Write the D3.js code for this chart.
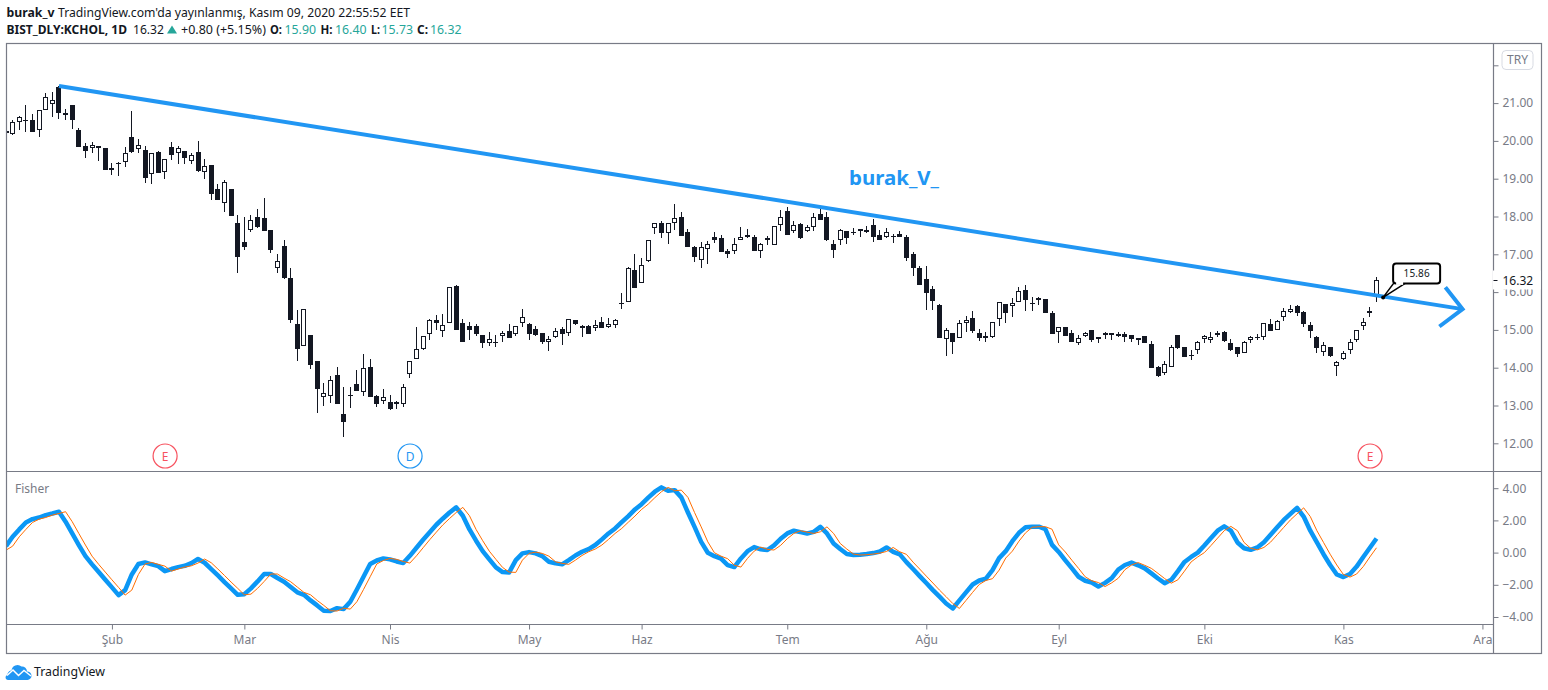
<!DOCTYPE html>
<html><head><meta charset="utf-8">
<script src="https://cdn.jsdelivr.net/npm/d3@7/dist/d3.min.js"></script>
<style>html,body{margin:0;padding:0;background:#fff}svg{display:block}text{font-family:"Noto Sans",sans-serif}</style>
</head><body><div id="c"></div>
<script>
const opens=[20.25,20.19,20.49,20.55,20.54,20.28,20.81,20.97,21.42,20.68,
20.94,20.28,19.86,19.80,19.86,19.80,19.27,19.38,19.43,20.09,
19.78,19.76,19.12,19.71,19.17,19.84,19.69,19.73,19.48,19.71,
19.19,19.36,18.73,18.35,18.73,17.83,17.33,17.63,17.98,17.95,
17.64,16.63,17.22,16.36,15.16,14.58,14.87,14.18,13.23,13.26,
13.81,12.77,13.25,13.57,13.37,14.02,13.25,13.13,13.08,13.09,
13.05,13.84,14.24,14.50,14.90,15.25,14.98,15.19,16.16,15.17,
15.10,15.10,14.87,14.66,14.66,14.85,14.96,14.90,15.19,15.16,
15.02,14.91,14.69,14.81,15.02,14.93,15.26,15.10,15.10,15.06,
15.21,15.08,15.14,15.68,15.75,16.58,16.23,16.83,17.69,17.84,
17.57,17.84,18.00,17.58,17.18,16.84,17.13,17.45,17.42,17.08,
17.10,17.37,17.50,17.47,17.08,17.42,17.24,17.77,18.14,17.61,
17.79,17.61,17.71,18.06,18.00,17.26,17.39,17.61,17.58,17.66,
17.63,17.77,17.50,17.47,17.48,17.53,17.45,17.00,16.65,16.35,
16.08,15.65,14.75,14.93,14.78,15.17,15.31,14.91,14.83,14.82,
15.30,15.68,15.64,15.75,16.05,15.69,15.84,15.81,15.44,14.95,
15.07,14.93,14.66,14.85,14.99,14.75,14.92,14.91,14.89,14.88,
14.86,14.78,14.83,14.64,14.02,13.85,14.03,14.86,14.54,14.31,
14.46,14.77,14.72,14.86,14.94,14.66,14.54,14.40,14.72,14.80,
14.82,15.15,15.01,15.33,15.48,15.62,15.47,15.12,14.80,14.41,
14.54,14.04,14.22,14.46,14.72,15.09,15.44,15.90];
const highs=[20.27,20.55,20.66,20.94,20.70,20.81,21.28,21.30,21.45,20.84,
20.94,20.33,19.94,19.98,19.86,19.80,19.41,19.43,19.83,20.79,
20.04,19.86,19.69,19.72,19.53,19.96,19.87,19.73,19.69,20.00,
19.52,19.36,18.86,18.96,18.73,18.04,17.99,18.04,18.21,18.48,
17.64,17.02,17.39,16.63,15.53,15.54,14.87,14.18,13.59,13.78,
14.02,13.49,13.49,13.94,14.36,14.23,13.28,13.44,13.28,13.12,
13.57,14.19,15.08,14.85,15.28,15.39,15.42,16.13,16.19,15.29,
15.21,15.16,14.87,14.94,14.87,14.96,15.16,15.10,15.55,15.18,
15.10,14.91,14.84,15.04,15.08,15.29,15.26,15.13,15.13,15.26,
15.34,15.32,15.28,15.97,16.67,17.01,16.89,17.39,17.84,17.88,
17.84,18.33,18.11,17.66,17.22,17.32,17.35,17.59,17.50,17.13,
17.43,17.72,17.66,17.50,17.29,17.48,17.74,18.17,18.24,17.87,
17.82,17.77,18.08,18.19,18.11,17.37,17.66,17.61,17.69,17.66,
17.74,17.93,17.64,17.69,17.53,17.61,17.50,17.05,16.68,16.69,
16.16,15.68,15.04,14.93,15.26,15.36,15.49,15.02,14.94,15.20,
15.75,15.68,15.84,16.13,16.18,15.87,15.87,15.83,15.49,15.07,
15.07,14.99,14.86,14.94,14.99,14.82,14.94,14.91,14.94,14.94,
14.86,14.78,14.83,14.70,14.04,14.17,14.59,14.86,14.54,14.46,
14.71,14.87,14.94,14.96,14.96,14.75,14.56,14.70,14.83,14.88,
15.17,15.28,15.26,15.58,15.65,15.65,15.49,15.20,14.83,14.67,
14.56,14.17,14.43,14.75,15.01,15.31,15.60,16.40];
const lows=[20.20,20.16,20.29,20.23,20.24,20.09,20.81,20.64,20.59,20.54,
20.31,19.85,19.56,19.69,19.48,19.24,19.10,19.08,19.32,19.69,
19.67,18.88,18.87,19.16,19.00,19.49,19.40,19.40,19.40,19.19,
19.00,18.44,18.44,18.13,18.01,16.51,17.11,17.60,17.70,17.62,
17.04,16.51,16.35,15.19,14.19,14.58,13.97,12.81,12.99,13.07,
13.05,12.17,12.94,13.39,13.25,13.23,12.97,13.04,12.89,12.92,
12.97,13.74,14.24,14.47,14.74,15.00,14.81,15.19,15.00,14.68,
14.74,14.84,14.52,14.57,14.55,14.68,14.79,14.84,15.08,14.73,
14.84,14.63,14.44,14.79,14.60,14.84,15.13,14.81,14.89,14.97,
15.05,15.05,15.05,15.55,15.75,16.12,16.23,16.80,17.54,17.44,
17.28,17.64,17.49,17.20,16.79,16.65,16.75,17.31,17.05,16.91,
17.02,17.37,17.44,17.09,16.91,17.25,17.24,17.62,17.50,17.57,
17.41,17.58,17.61,17.90,17.36,16.91,17.25,17.28,17.52,17.47,
17.56,17.32,17.39,17.42,17.29,17.45,16.81,16.43,16.18,15.52,
15.52,14.79,14.32,14.37,14.78,14.95,14.93,14.71,14.69,14.79,
15.11,15.18,15.34,15.75,15.51,15.51,15.67,15.44,14.90,14.66,
14.85,14.69,14.61,14.82,14.69,14.66,14.77,14.74,14.82,14.69,
14.69,14.61,14.66,14.00,13.76,13.82,14.03,14.50,14.29,14.21,
14.37,14.66,14.66,14.82,14.69,14.45,14.29,14.38,14.66,14.74,
14.74,14.97,15.00,15.23,15.44,15.38,15.07,14.79,14.38,14.32,
14.29,13.79,14.21,14.35,14.67,15.01,15.35,15.73];
const closes=[20.22,20.49,20.62,20.54,20.24,20.81,21.17,21.07,20.75,20.73,
20.54,19.85,19.72,19.88,19.82,19.24,19.24,19.41,19.67,19.71,
19.88,19.03,19.67,19.16,19.51,19.64,19.80,19.56,19.64,19.20,
19.33,18.60,18.44,18.90,18.01,16.94,17.20,17.92,17.73,17.62,
17.11,16.81,16.37,15.27,14.50,15.54,14.08,13.44,13.32,13.67,
13.05,12.57,13.28,13.39,13.98,13.23,13.04,13.22,12.92,13.05,
13.48,14.19,14.49,14.83,15.25,15.19,15.12,16.13,15.00,14.68,
15.00,14.89,14.65,14.75,14.68,14.91,14.79,15.09,15.33,14.89,
14.87,14.68,14.75,14.96,14.89,15.28,15.16,15.06,14.89,15.13,
15.05,15.15,15.26,15.70,16.65,16.12,16.73,17.39,17.82,17.57,
17.84,17.95,17.49,17.20,16.94,17.18,17.26,17.39,17.07,17.02,
17.26,17.45,17.46,17.09,17.26,17.39,17.74,18.00,17.52,17.77,
17.44,17.71,18.00,17.90,17.39,17.12,17.63,17.44,17.60,17.62,
17.60,17.47,17.39,17.58,17.45,17.47,16.89,16.65,16.18,15.97,
15.77,14.79,14.99,14.69,15.17,15.25,14.98,14.79,14.79,15.20,
15.73,15.46,15.70,16.02,15.80,15.71,15.80,15.46,14.90,15.07,
14.85,14.69,14.78,14.91,14.74,14.82,14.87,14.87,14.85,14.82,
14.77,14.74,14.66,14.00,13.79,14.11,14.54,14.53,14.29,14.33,
14.67,14.85,14.80,14.91,14.71,14.48,14.37,14.69,14.82,14.82,
15.17,14.98,15.24,15.49,15.54,15.46,15.15,14.96,14.51,14.61,
14.30,14.16,14.38,14.69,14.99,15.20,15.51,16.32];
const fisher=[0.40,0.98,1.44,1.87,2.08,2.18,2.33,2.43,2.54,1.92,
1.19,0.47,-0.22,-0.73,-1.21,-1.69,-2.16,-2.64,-2.33,-1.36,
-0.71,-0.61,-0.73,-0.84,-1.15,-1.02,-0.90,-0.82,-0.65,-0.40,
-0.63,-1.02,-1.42,-1.83,-2.22,-2.62,-2.58,-2.22,-1.79,-1.33,
-1.33,-1.58,-1.81,-2.14,-2.47,-2.62,-2.97,-3.28,-3.61,-3.63,
-3.45,-3.51,-3.05,-2.29,-1.50,-0.71,-0.49,-0.36,-0.42,-0.55,
-0.65,-0.20,0.30,0.80,1.27,1.73,2.12,2.49,2.81,2.29,
1.44,0.74,0.09,-0.42,-0.92,-1.21,-1.23,-0.47,-0.05,0.03,
-0.05,-0.22,-0.57,-0.67,-0.73,-0.47,-0.18,0.05,0.22,0.47,
0.82,1.19,1.50,1.89,2.27,2.68,3.01,3.41,3.78,4.05,
3.84,3.88,3.43,2.49,1.60,0.67,-0.01,-0.22,-0.38,-0.78,
-0.90,-0.36,0.09,0.34,0.20,0.16,0.45,0.86,1.19,1.36,
1.27,1.19,1.29,1.60,1.19,0.57,0.22,-0.09,-0.15,-0.13,
-0.09,-0.03,0.07,0.32,0.05,-0.11,-0.59,-1.02,-1.46,-1.89,
-2.33,-2.74,-3.16,-3.47,-2.97,-2.47,-1.98,-1.73,-1.62,-1.09,
-0.34,0.09,0.71,1.23,1.57,1.61,1.61,1.45,0.48,0.04,
-0.48,-0.98,-1.50,-1.75,-1.86,-2.11,-1.88,-1.59,-1.06,-0.77,
-0.62,-0.79,-0.98,-1.29,-1.61,-1.90,-1.69,-1.15,-0.58,-0.27,
0.00,0.44,0.90,1.36,1.63,1.36,0.63,0.27,0.17,0.32,
0.65,1.11,1.57,2.03,2.41,2.78,2.24,1.36,0.63,-0.10,
-0.77,-1.36,-1.52,-1.33,-0.87,-0.27,0.30,0.88];
const trigger=[0.15,0.40,0.98,1.44,1.87,2.08,2.18,2.33,2.43,2.54,
1.92,1.19,0.47,-0.22,-0.73,-1.21,-1.69,-2.16,-2.64,-2.33,
-1.36,-0.71,-0.61,-0.73,-0.84,-1.15,-1.02,-0.90,-0.82,-0.65,
-0.40,-0.63,-1.02,-1.42,-1.83,-2.22,-2.62,-2.58,-2.22,-1.79,
-1.33,-1.33,-1.58,-1.81,-2.14,-2.47,-2.62,-2.97,-3.28,-3.61,
-3.63,-3.45,-3.51,-3.05,-2.29,-1.50,-0.71,-0.49,-0.36,-0.42,
-0.55,-0.65,-0.20,0.30,0.80,1.27,1.73,2.12,2.49,2.81,
2.29,1.44,0.74,0.09,-0.42,-0.92,-1.21,-1.23,-0.47,-0.05,
0.03,-0.05,-0.22,-0.57,-0.67,-0.73,-0.47,-0.18,0.05,0.22,
0.47,0.82,1.19,1.50,1.89,2.27,2.68,3.01,3.41,3.78,
4.05,3.84,3.88,3.43,2.49,1.60,0.67,-0.01,-0.22,-0.38,
-0.78,-0.90,-0.36,0.09,0.34,0.20,0.16,0.45,0.86,1.19,
1.36,1.27,1.19,1.29,1.60,1.19,0.57,0.22,-0.09,-0.15,
-0.13,-0.09,-0.03,0.07,0.32,0.05,-0.11,-0.59,-1.02,-1.46,
-1.89,-2.33,-2.74,-3.16,-3.47,-2.97,-2.47,-1.98,-1.73,-1.62,
-1.09,-0.34,0.09,0.71,1.23,1.57,1.61,1.61,1.45,0.48,
0.04,-0.48,-0.98,-1.50,-1.75,-1.86,-2.11,-1.88,-1.59,-1.06,
-0.77,-0.62,-0.79,-0.98,-1.29,-1.61,-1.90,-1.69,-1.15,-0.58,
-0.27,0.00,0.44,0.90,1.36,1.63,1.36,0.63,0.27,0.17,
0.32,0.65,1.11,1.57,2.03,2.41,2.78,2.24,1.36,0.63,
-0.10,-0.77,-1.36,-1.52,-1.33,-0.87,-0.27,0.30];
const monthBars=[16,36,58,79,96,118,139,159,181,202,223];
const monthLabels=["Şub","Mar","Nis","May","Haz","Tem","Ağu","Eyl","Eki","Kas","Ara"];
const priceTicks=[12,13,14,15,16,17,18,19,20,21,22];
const fisherTicks=[-4,-2,0,2,4];
const trendBars=[8,220], trendPrices=[21.45,15.55];
const wingBars=[217.4,220,216.5], wingPrices=[16.13,15.55,15.09];
const eventBars=[24,61,206], eventLetters=["E","D","E"];
const lastClose=16.32, calloutBar=208, calloutPrice=15.86;

const W=1548,H=690,L=6.5,R=1541.5,T=43.5,B=653.5,AX=1493.5,SPLIT=471.5,TAX=624.5;
const INK="#131722",GREY="#787b86",BLUE="#2196f3",TEAL="#26a69a",RED="#f7525f";
const svg=d3.select("#c").append("svg").attr("width",W).attr("height",H);
const xS=d3.scaleLinear().domain([0,207]).range([6,1376.5]);
const yS=d3.scaleLinear().domain([12,22]).range([443.3,65.3]);
const yF=d3.scaleLinear().domain([-4,4]).range([617,488.2]);
const snap=i=>Math.floor(xS(i))+0.5;

svg.append("defs").append("clipPath").attr("id","plot").append("rect")
  .attr("x",L+.5).attr("y",T+.5).attr("width",AX-L-1).attr("height",TAX-T-1);

// header
const head=svg.append("g").attr("font-size",13).attr("fill",INK);
function label(str,xs,ys,len,o={}){const e=head.append("text").attr("x",xs).attr("y",ys).text(str)
  .attr("textLength",len).attr("lengthAdjust","spacingAndGlyphs");
  if(o.b)e.attr("font-weight",700); if(o.c)e.attr("fill",o.c); if(o.s)e.attr("font-size",o.s); return e;}
label("burak_v",6.5,17,48,{b:1});
label("TradingView.com'da yayınlanmış, Kasım 09, 2020 22:55:52 EET",58,17,352);
label("BIST_DLY:KCHOL, 1D",6.5,34,120.5,{b:1,s:12});
label("16.32",133,34,31);
head.append("path").attr("d","M167 33.5L172 25.5L177 33.5Z").attr("fill",TEAL);
label("+0.80 (+5.15%)",181,34,85);
[["O:",270,12,"15.90",284.5],["H:",320.5,12,"16.40",335],["L:",371,9,"15.73",381.5],["C:",417,11,"16.32",430]].forEach(d=>{
  label(d[0],d[1],34,d[2],{b:1}); label(d[3],d[4],34,31.5,{c:TEAL});
});

// candles
const candles=svg.append("g").attr("clip-path","url(#plot)").attr("shape-rendering","crispEdges");
const idx=d3.range(opens.length);
candles.selectAll(".w").data(idx).join("rect").attr("class","w")
  .attr("x",i=>snap(i)-.5).attr("width",1)
  .attr("y",i=>Math.round(yS(highs[i]))).attr("height",i=>Math.max(1,Math.round(yS(lows[i]))-Math.round(yS(highs[i]))))
  .attr("fill",INK);
const bodyTop=i=>Math.round(yS(Math.max(opens[i],closes[i])));
const bodyBot=i=>Math.round(yS(Math.min(opens[i],closes[i])));
candles.selectAll(".b").data(idx).join("rect").attr("class","b")
  .attr("x",i=>snap(i)-2.5).attr("width",5).attr("y",bodyTop).attr("height",i=>Math.max(1,bodyBot(i)-bodyTop(i))).attr("fill",INK);
candles.selectAll(".u").data(idx.filter(i=>closes[i]>=opens[i]&&bodyBot(i)-bodyTop(i)>2)).join("rect").attr("class","u")
  .attr("x",i=>snap(i)-1.5).attr("width",3).attr("y",i=>bodyTop(i)+1).attr("height",i=>bodyBot(i)-bodyTop(i)-2).attr("fill","#fff");

// trend line, arrow head, label
const ln=d3.line().x(d=>xS(d[0])).y(d=>yS(d[1]));
const over=svg.append("g").attr("clip-path","url(#plot)");
over.append("path").attr("d",ln(d3.zip(trendBars,trendPrices))).attr("fill","none").attr("stroke",BLUE).attr("stroke-width",4);
over.append("path").attr("d",ln(d3.zip(wingBars,wingPrices))).attr("fill","none").attr("stroke",BLUE).attr("stroke-width",4);
over.append("text").attr("x",849).attr("y",185).text("burak_V_").attr("font-size",20).attr("font-weight",700)
  .attr("fill",BLUE).attr("textLength",90).attr("lengthAdjust","spacingAndGlyphs");

// callout
const px=xS(calloutBar),py=yS(calloutPrice);
const cg=over.append("g");
cg.append("path").attr("d",`M${px} ${py}L${px+12} ${py-16}L${px+22} ${py-14}Z`).attr("fill","#fff").attr("stroke","#000").attr("stroke-width",1.5);
cg.append("rect").attr("x",px+10).attr("y",py-34).attr("width",47).attr("height",20).attr("rx",3).attr("fill","#fff").attr("stroke","#000").attr("stroke-width",2);
cg.append("path").attr("d",`M${px+13} ${py-14}H${px+20}`).attr("stroke","#fff").attr("stroke-width",3);
cg.append("circle").attr("cx",px).attr("cy",py).attr("r",2).attr("fill","#000");
cg.append("text").attr("x",px+20.5).attr("y",py-20.5).attr("font-size",10).attr("fill",INK)
  .attr("textLength",26).attr("lengthAdjust","spacing").text(calloutPrice.toFixed(2));

// events
const ev=svg.append("g");
eventBars.forEach((b,i)=>{
  const col=eventLetters[i]==="D"?BLUE:RED;
  ev.append("circle").attr("cx",xS(b)+.2).attr("cy",456).attr("r",12).attr("fill","#fff").attr("stroke",col).attr("stroke-width",1.2);
  ev.append("text").attr("x",xS(b)+.2).attr("y",460.5).attr("text-anchor","middle").attr("font-size",12).attr("fill",col).text(eventLetters[i]);
});

// fisher
const fl=d3.line().x((d,i)=>xS(i)).y(d=>yF(d));
svg.select("defs").append("clipPath").attr("id","plotF").append("rect")
  .attr("x",L+.5).attr("y",SPLIT).attr("width",AX-L-1).attr("height",TAX-SPLIT);
const fg=svg.append("g").attr("clip-path","url(#plotF)");
fg.append("path").attr("d",fl(fisher)).attr("fill","none").attr("stroke","#0b97f5").attr("stroke-width",4.5).attr("stroke-linejoin","round");
fg.append("path").attr("d",fl(trigger)).attr("fill","none").attr("stroke","#ff6d00").attr("stroke-width",1);
svg.append("text").attr("x",15).attr("y",493).attr("font-size",12).attr("fill",GREY).text("Fisher");

// frame
const fr=svg.append("g").attr("stroke",GREY).attr("stroke-width",1.2).attr("fill","none");
fr.append("rect").attr("x",L).attr("y",T).attr("width",R-L).attr("height",B-T);
fr.append("path").attr("d",`M${L} ${SPLIT}H${R}M${L} ${TAX}H${AX}M${AX} ${T}V${B}`);

// axes
function styleAxis(g){g.select(".domain").remove();
  g.selectAll("line").attr("stroke",GREY);
  g.selectAll("text").attr("fill",GREY).attr("font-size",12).attr("font-family",'"Noto Sans",sans-serif');}
svg.append("g").attr("transform",`translate(${AX},0)`)
  .call(d3.axisRight(yS).tickValues(priceTicks).tickFormat(d=>d===22?"":d3.format(".2f")(d)).tickSize(5).tickPadding(4)).call(styleAxis);
svg.append("g").attr("transform",`translate(${AX},0)`)
  .call(d3.axisRight(yF).tickValues(fisherTicks).tickFormat(d3.format(".2f")).tickSize(5).tickPadding(4)).call(styleAxis);
svg.append("g").attr("transform",`translate(0,${TAX})`)
  .call(d3.axisBottom(xS).tickValues(monthBars).tickFormat((d,i)=>monthLabels[i]).tickSize(5).tickPadding(6)).call(styleAxis);

// currency box
svg.append("rect").attr("x",1502).attr("y",50.5).attr("width",31).attr("height",19).attr("rx",4).attr("fill","#fff").attr("stroke","#d8dbe3");
svg.append("text").attr("x",1517.5).attr("y",64).attr("text-anchor","middle").attr("font-size",12).attr("fill",GREY).text("TRY");

// last price label
const ly=yS(lastClose);
svg.append("rect").attr("x",AX-.7).attr("y",ly-9.5).attr("width",R-AX).attr("height",19).attr("fill","#fff");
svg.append("path").attr("d",`M${AX} ${Math.round(ly)+.5}h4`).attr("stroke",INK);
svg.append("text").attr("x",AX+9).attr("y",ly+4.5).attr("font-size",12).attr("fill",INK).text(lastClose.toFixed(2));

// logo
const logo=svg.append("g");
logo.append("path").attr("fill","#2196f3").attr("d","M8 680a2.5 2.5 0 0 1-1.5-4.5l2-3.5a3 3 0 0 1 3-1.5a6 6 0 0 1 10-4a5 5 0 0 1 5.5 5a4 4 0 0 1 .5 8.5Z");
logo.append("path").attr("fill","none").attr("stroke","#fff").attr("stroke-width",1.5).attr("d","M7 675.5L13 670L18.5 675.5L24 670.5L31 676");
svg.append("text").attr("x",34).attr("y",676).attr("font-size",13).attr("fill",INK).attr("textLength",71).attr("lengthAdjust","spacingAndGlyphs").text("TradingView");
</script></body></html>
